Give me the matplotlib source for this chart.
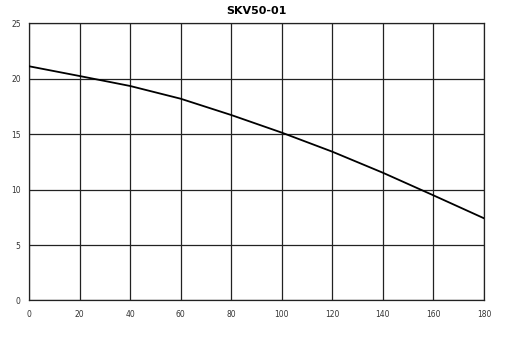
import matplotlib
matplotlib.use("Agg")
import matplotlib.pyplot as plt

# flow vs head
flow = [0, 20, 40, 60, 80, 100, 120, 140, 160, 180]
head = [21.14, 20.26, 19.36, 18.21, 16.74, 15.15, 13.43, 11.53, 9.49, 7.42]

xticks = [0, 20, 40, 60, 80, 100, 120, 140, 160, 180]
yticks = [0, 5, 10, 15, 20, 25]

fig = plt.figure(figsize=(5.07, 3.39), dpi=100)
ax = fig.add_axes([0.0572, 0.1136, 0.8974, 0.8171])

ax.plot(flow, head, color='black', linewidth=1.3, zorder=3)

ax.set_xlim(0, 180)
ax.set_ylim(0, 25)
ax.set_xticks(xticks)
ax.set_yticks(yticks)
ax.grid(True, color='#222222', linewidth=0.9)
ax.tick_params(length=0, labelsize=5.5, labelcolor='#333333')
ax.tick_params(axis='x', pad=7)
ax.tick_params(axis='y', pad=6)
for s in ax.spines.values():
    s.set_color('#222222')
    s.set_linewidth(0.9)

ax.set_title('SKV50-01', fontsize=8, fontweight='bold', pad=7)

fig.savefig('out.png', dpi=100)
